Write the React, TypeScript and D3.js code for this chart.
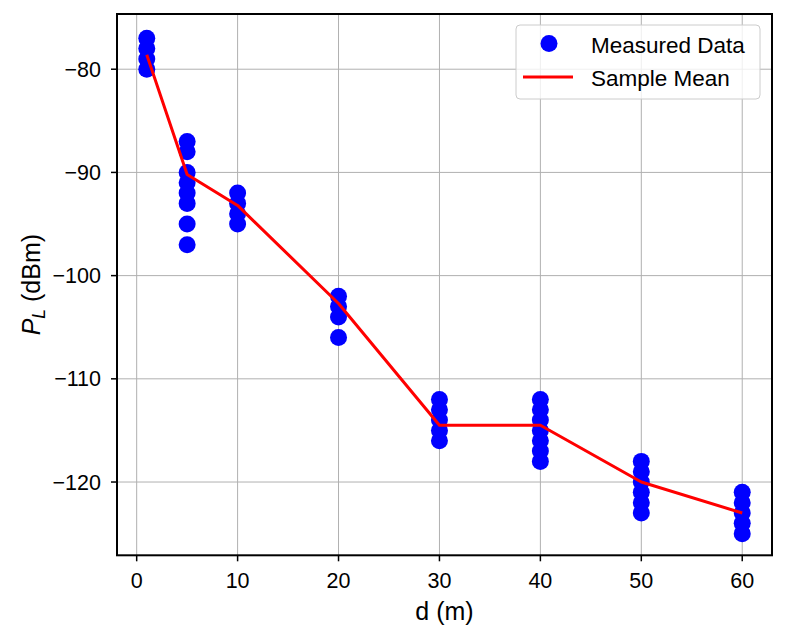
import React from "react";
import * as d3 from "d3";

// Distances (m) at which the path loss was sampled
const distances: number[] = [1, 5, 10, 20, 30, 40, 50, 60];

// Measured received power (dBm) at each distance
const measured: number[][] = [
  [-77, -78, -79, -80],
  [-87, -88, -90, -91, -92, -93, -95, -97],
  [-92, -93, -94, -95],
  [-102, -103, -104, -106],
  [-112, -113, -114, -115, -116],
  [-112, -113, -114, -115, -116, -117, -118],
  [-118, -119, -120, -121, -122, -123],
  [-121, -122, -123, -124, -125],
];

// Sample mean of the received power at each distance
const sampleMean: number[] = [-78.6, -90.2, -93.2, -102.7, -114.5, -114.5, -120.0, -123.0];

const xTicks: number[] = [0, 10, 20, 30, 40, 50, 60];
const yTicks: number[] = [-120, -110, -100, -90, -80];

const W = 787;
const H = 632;
const left = 117;
const right = 772;
const top = 14;
const bottom = 555.3;

const FONT = "'Liberation Sans', Arial, sans-serif";

export default function App() {
  const x = d3.scaleLinear().domain([-1.95, 62.95]).range([left, right]);
  const y = d3.scaleLinear().domain([-127.1, -74.65]).range([bottom, top]);

  const points = distances.flatMap((d, i) => measured[i].map((v) => ({ d, v })));
  const meanLine = d3
    .line<number>()
    .x((_, i) => x(distances[i]))
    .y((v) => y(v))(sampleMean);

  const fmt = d3.format("d");

  return (
    <svg
      width={W}
      height={H}
      style={{ position: "absolute", left: 0, top: 0, background: "#fff" }}
      fontFamily={FONT}
    >
      <defs>
        <clipPath id="plot-area">
          <rect x={left} y={top} width={right - left} height={bottom - top} />
        </clipPath>
      </defs>
      <rect x={0} y={0} width={W} height={H} fill="#fff" />

      {/* grid */}
      <g stroke="#b0b0b0" strokeWidth={1}>
        {xTicks.map((t) => (
          <line key={"gx" + t} x1={x(t)} x2={x(t)} y1={top} y2={bottom} />
        ))}
        {yTicks.map((t) => (
          <line key={"gy" + t} x1={left} x2={right} y1={y(t)} y2={y(t)} />
        ))}
      </g>

      <g clipPath="url(#plot-area)">
        {points.map((p, i) => (
          <circle key={i} cx={x(p.d)} cy={y(p.v)} r={8.5} fill="#0000ff" />
        ))}
        <path d={meanLine ?? ""} fill="none" stroke="#ff0000" strokeWidth={3} strokeLinejoin="round" />
      </g>

      {/* frame */}
      <rect
        x={left}
        y={top}
        width={right - left}
        height={bottom - top}
        fill="none"
        stroke="#000"
        strokeWidth={2}
      />

      {/* x axis */}
      <g>
        {xTicks.map((t) => (
          <g key={"xt" + t}>
            <line x1={x(t)} x2={x(t)} y1={bottom} y2={bottom + 6} stroke="#000" strokeWidth={1.5} />
            <text x={x(t)} y={588} textAnchor="middle" fontSize={21.5} fill="#000">
              {fmt(t)}
            </text>
          </g>
        ))}
        <text x={(left + right) / 2} y={620} textAnchor="middle" fontSize={25} fill="#000">
          d (m)
        </text>
      </g>

      {/* y axis */}
      <g>
        {yTicks.map((t) => (
          <g key={"yt" + t}>
            <line x1={left - 6} x2={left} y1={y(t)} y2={y(t)} stroke="#000" strokeWidth={1.5} />
            <text x={101} y={y(t) + 7.5} textAnchor="end" fontSize={21.5} fill="#000">
              {fmt(t).replace("-", "\u2212")}
            </text>
          </g>
        ))}
        <text
          transform={`translate(40, ${(top + bottom) / 2}) rotate(-90)`}
          textAnchor="middle"
          fontSize={25}
          fill="#000"
        >
          <tspan fontStyle="italic">P</tspan>
          <tspan fontStyle="italic" fontSize={17.5} dy={5}>L</tspan>
          <tspan dy={-5}> (dBm)</tspan>
        </text>
      </g>

      {/* legend */}
      <g>
        <rect x={516} y={25} width={244} height={74} rx={4} fill="#fff" fillOpacity={0.8} stroke="#cccccc" strokeWidth={1} />
        <circle cx={549} cy={43.5} r={8.5} fill="#0000ff" />
        <line x1={523} x2={573} y1={77} y2={77} stroke="#ff0000" strokeWidth={3} />
        <text x={591} y={52.5} fontSize={22.5} fill="#000">Measured Data</text>
        <text x={591} y={85.5} fontSize={22.5} fill="#000">Sample Mean</text>
      </g>
    </svg>
  );
}
